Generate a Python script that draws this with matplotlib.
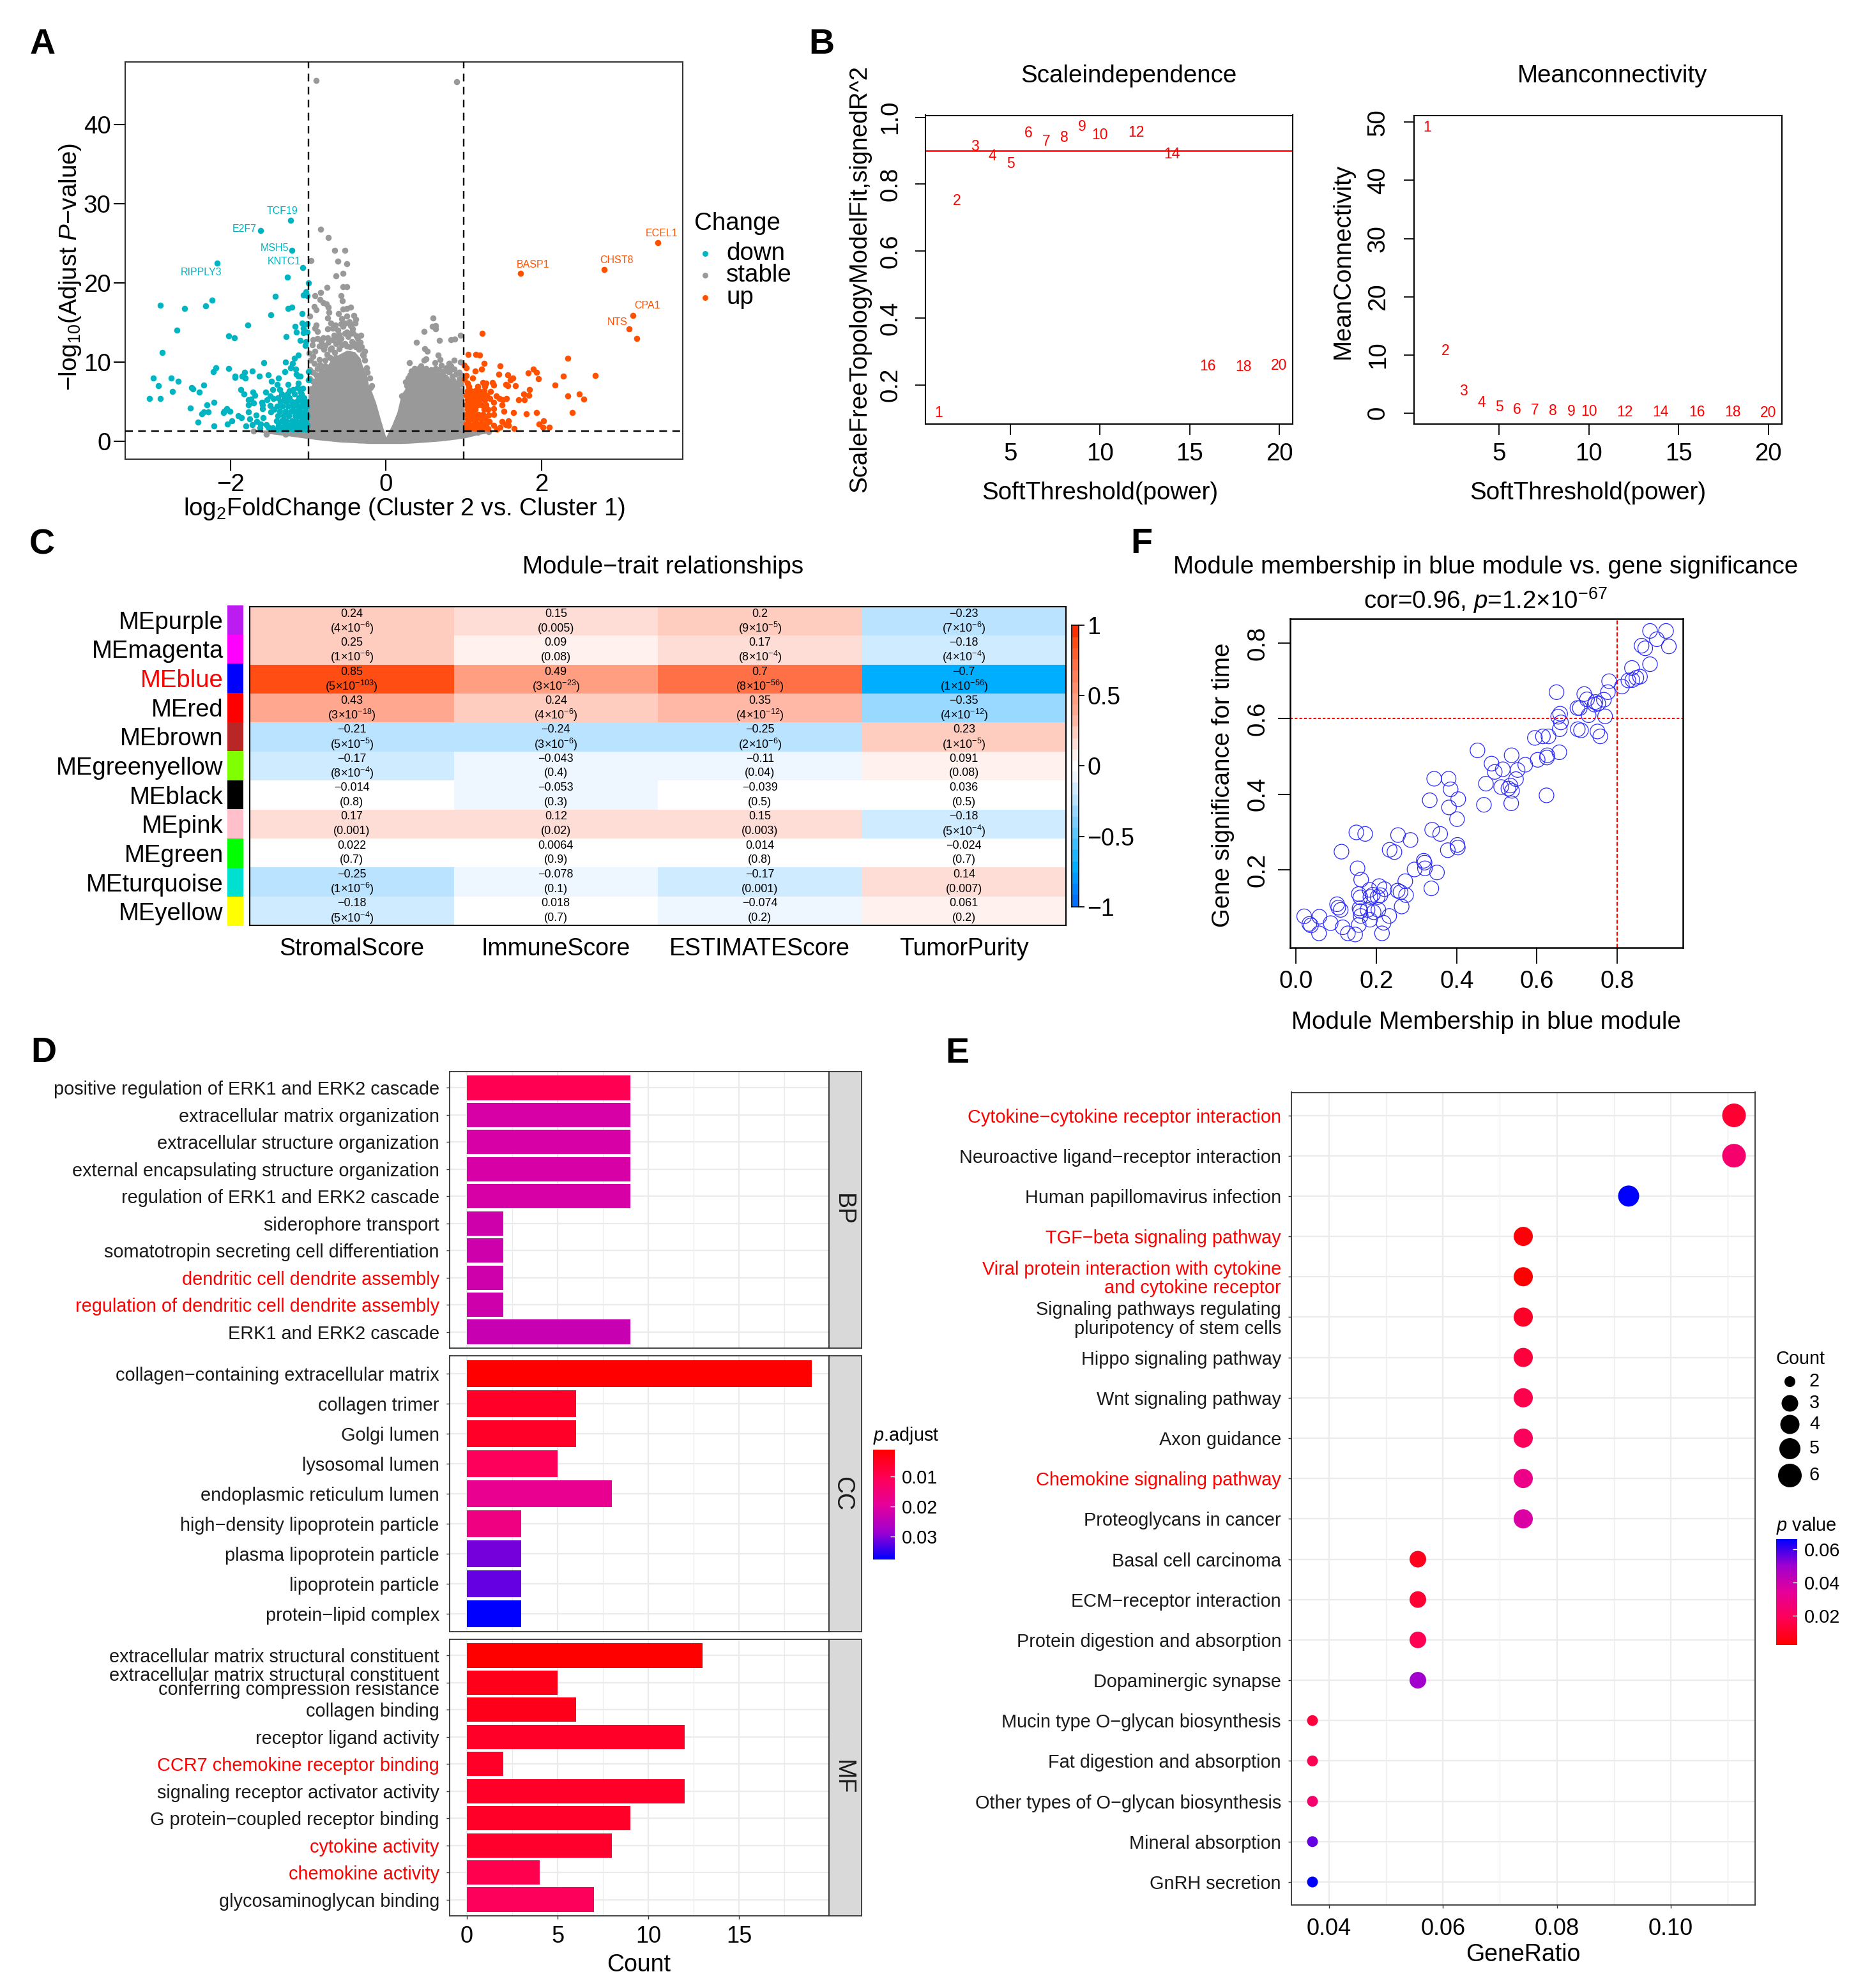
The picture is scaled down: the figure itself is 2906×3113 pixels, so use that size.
import matplotlib
matplotlib.use("Agg")
import matplotlib.pyplot as plt
import numpy as np
from matplotlib.colors import LinearSegmentedColormap, ListedColormap

W, H = 2906, 3113
PT = 0.72  # points per output pixel at dpi 100

plt.rcParams["font.family"] = ["Liberation Sans", "DejaVu Sans"]
plt.rcParams["mathtext.fontset"] = "custom"
plt.rcParams["mathtext.rm"] = "Liberation Sans"
plt.rcParams["mathtext.it"] = "Liberation Sans:italic"
plt.rcParams["mathtext.bf"] = "Liberation Sans:bold"
plt.rcParams["mathtext.default"] = "regular"

# ---- A: volcano ----
stable_env_x = [-1.75, -1.5, -1.2, -1.02, -1.0, -.9, -.8, -.7, -.6, -.5, -.4, -.33, -.3, -.25, -.22, -.18, -.13,
                -.07, 0, .08, .145, .2, .24, .32, .43, .54, .68, .79, .9, 1.0, 1.02, 1.2, 1.35]
stable_env_hi = [1.4, 1.4, 1.5, 1.8, 6.0, 8.5, 9, 10.3, 11, 11.5, 11.3, 10.5, 9.5, 8.5, 7, 6.2, 4.9,
                 2.8, .5, 2.1, 3.7, 6.0, 6.5, 8.4, 9.2, 8.7, 8.7, 8.4, 6.8, 6.7, 1.6, 1.4, 1.2]
stable_env_lo = [1.3, .95, .6, .35, .35, .2, .1, 0, -.1, -.15, -.2, -.25, -.25, -.28, -.3, -.3, -.3,
                 -.3, -.3, -.3, -.3, -.3, -.28, -.25, -.18, -.1, 0, .12, .25, .4, .42, .85, 1.1]
stable_points = [
    (-.90, 45.6), (.91, 45.4), (-.84, 26.8), (-.74, 25.7), (-.66, 24.1), (-.53, 24.1), (-.96, 22.8), (-.62, 22.7),
    (-.50, 22.4), (-.64, 20.9), (-.55, 21.2), (-.76, 19.4), (-.55, 19.5), (-.50, 19.5), (-.84, 18.8), (-.91, 18.4),
    (-.58, 18.4), (-.56, 17.7), (-.85, 17.9), (-.81, 17.5), (-.77, 17.3), (-.74, 16.9), (-.92, 17.0), (-.90, 16.6),
    (-.73, 16.3), (-.55, 16.7), (-.50, 16.8), (-.45, 16.9), (-.61, 16.1), (-.57, 15.5), (-.50, 15.8), (-.75, 15.6),
    (-.98, 15.8), (-.41, 15.9), (-.39, 15.4), (-.40, 14.9), (-.47, 15.1), (-.71, 14.9), (-.90, 14.7), (-.91, 14.3),
    (-.88, 13.9), (-.75, 14.2), (-.68, 14.3), (-.62, 14.0), (-.55, 14.5), (-.43, 14.2), (-.50, 13.8), (-.32, 13.4),
    (-.38, 13.3), (-.49, 13.2), (-.62, 13.1), (-.75, 13.1), (-.88, 13.0), (-.94, 12.8), (-.81, 13.1), (-.83, 12.6),
    (-.95, 12.2), (-.64, 12.3), (-.42, 12.4), (-.36, 12.3), (-.31, 11.9), (-.27, 11.4), (-.29, 10.8), (-.27, 10.2),
    (-.25, 9.3), (-.24, 8.7), (-.21, 8.0), (-.18, 7.0), (-.20, 6.8), (-.99, 11.1), (-.91, 11.4), (-.80, 11.6),
    (-.70, 11.8), (-.94, 10.7), (-.86, 10.3), (-.88, 9.2), (-.90, 8.4), (-.94, 7.6), (-1.7, 1.3), (-1.54, .9),
    (-1.29, .9), (1.18, 1.1), (1.32, 1.2),
    (-.97, 10.2), (-.92, 9.8), (-.98, 9.0), (-.94, 8.7), (-.85, 9.7), (-.83, 9.0), (-.85, 8.4), (-.98, 7.9), (-.90, 7.0),
    (-.85, 7.5), (-.96, 6.6), (-.92, 6.3), (-.78, 10.2), (-.72, 10.6), (-.76, 11.0), (-.66, 11.2), (-.64, 10.6),
    (-.78, 9.5), (-.74, 9.2), (-.70, 8.8), (-.80, 8.5), (-.76, 8.2), (-.68, 10.0), (-.72, 11.6), (-.60, 11.7),
    (-.57, 12.2), (-.53, 12.3), (-.50, 12.0), (-.46, 11.9), (-.44, 12.6), (-.39, 11.9), (-.35, 11.6), (-.60, 12.6),
    (-.58, 13.0), (-.86, 12.0), (-.78, 12.1), (-.74, 12.5), (-.68, 12.8), (-.67, 13.4), (-.60, 13.5), (-.53, 13.6),
    (-.46, 13.6), (-.42, 13.6), (-.65, 14.7), (-.58, 14.8), (-.52, 14.9), (-.45, 14.6), (-.36, 13.0), (-.33, 12.5),
    (-.30, 11.0),
    (.61, 15.6), (.60, 14.5), (.64, 14.6), (.64, 14.2), (.49, 13.9), (.96, 13.4), (.89, 12.9), (.84, 12.8), (.69, 12.7),
    (.39, 12.5), (.50, 11.7), (.53, 11.4), (.52, 10.4), (.49, 10.2), (.67, 10.9), (.70, 10.3), (.30, 9.9), (.88, 10.2),
    (.96, 10.0), (.71, 9.6), (.63, 9.9), (.81, 9.8), (.78, 9.3), (.84, 9.5), (.52, 9.2), (.43, 9.3), (.64, 9.2),
    (.88, 9.1), (.94, 8.7), (.35, 8.7), (.31, 8.4), (.41, 8.8), (.54, 8.7), (.73, 8.5), (.25, 7.5), (.30, 8.0),
    (.86, 7.7), (.83, 7.5), (.20, 5.7), (.90, 7.3),
    (.33, 8.9), (.37, 9.2), (.45, 9.5), (.5, 9.0), (.58, 9.0), (.62, 8.9), (.68, 9.0), (.75, 8.9), (.80, 8.8), (.85, 8.2),
    (.9, 8.5), (.94, 7.8), (.98, 8.3), (.92, 7.0), (.88, 7.2), (.97, 7.2), (.27, 7.0), (.29, 8.0), (.82, 8.9),
]
down_points = [
    (-1.23, 27.9), (-1.61, 26.6), (-1.21, 24.1), (-2.17, 22.5), (-1.07, 21.9), (-1.27, 20.7), (-1.00, 20.0),
    (-2.90, 17.2), (-2.59, 16.8), (-2.32, 17.1), (-2.24, 17.8), (-1.42, 18.3), (-1.06, 18.5), (-1.03, 18.9),
    (-1.01, 18.4), (-1.26, 16.8), (-1.21, 16.9), (-1.08, 16.1), (-1.48, 16.0), (-1.78, 14.7), (-1.08, 14.9),
    (-1.01, 14.8), (-1.17, 14.5), (-1.15, 13.8), (-1.06, 14.3), (-1.06, 13.7), (-1.01, 13.8), (-2.69, 14.0),
    (-2.02, 13.3), (-1.95, 13.1), (-1.28, 13.2), (-1.10, 12.7), (-1.03, 12.6), (-1.04, 12.1), (-2.88, 11.2),
    (-1.13, 10.9), (-1.18, 10.5), (-1.29, 10.0), (-1.57, 9.9), (-1.20, 9.8), (-1.23, 9.3), (-2.19, 9.3),
    (-2.22, 8.8), (-2.02, 9.2), (-1.72, 8.9), (-1.82, 8.7), (-1.30, 8.8), (-1.16, 9.1), (-1.15, 8.5), (-1.13, 8.2),
    (-1.10, 8.2), (-1.00, 8.8), (-2.99, 8.0), (-2.76, 8.0), (-2.67, 7.6), (-1.94, 8.2), (-1.94, 8.1), (-1.85, 8.2),
    (-1.81, 8.0), (-1.63, 8.2), (-1.51, 8.4), (-1.38, 8.0), (-1.47, 7.6), (-1.40, 7.2), (-1.26, 7.2), (-1.00, 7.7),
    (-1.13, 7.3), (-2.93, 7.0), (-2.50, 6.8), (-2.48, 6.6), (-2.34, 7.1), (-2.75, 6.3), (-2.40, 6.2), (-1.87, 6.5),
    (-1.83, 6.0), (-1.71, 6.2), (-1.69, 5.8), (-1.55, 6.2), (-1.46, 6.5), (-1.37, 6.5), (-1.24, 6.4), (-1.19, 6.5),
    (-1.14, 6.8), (-1.07, 6.7), (-1.10, 6.3), (-3.04, 5.4), (-2.90, 5.4), (-1.74, 5.3), (-1.77, 5.2), (-1.70, 4.8),
    (-1.77, 4.6), (-1.60, 4.9), (-1.53, 5.2), (-1.49, 5.7), (-1.45, 5.4), (-2.21, 4.9), (-2.30, 4.6), (-2.52, 4.2),
    (-1.59, 4.6), (-1.59, 4.1), (-1.49, 4.5), (-1.48, 3.7), (-1.44, 4.0), (-2.05, 4.1), (-2.01, 3.8), (-2.09, 3.6),
    (-2.08, 3.8), (-2.29, 3.7), (-2.34, 3.7), (-2.37, 3.5), (-1.77, 3.7), (-1.67, 3.3), (-1.90, 3.2), (-1.86, 3.0),
    (-1.75, 2.8), (-2.42, 2.4), (-1.98, 2.6), (-2.04, 2.2), (-2.21, 1.9), (-1.58, 3.0), (-1.66, 2.5), (-1.72, 2.1),
    (-1.80, 1.9), (-1.61, 2.2), (-1.62, 1.7), (-1.54, 2.1), (-1.51, 1.8), (-1.46, 1.7),
    (-1.40, 1.5), (-1.33, 1.5), (-1.27, 1.5), (-1.2, 1.5), (-1.14, 1.5), (-1.08, 1.5), (-1.03, 1.5),
    (-1.38, 2.0), (-1.31, 2.0), (-1.24, 2.0), (-1.18, 2.0), (-1.11, 2.0), (-1.05, 2.0), (-1.01, 2.0),
    (-1.41, 2.6), (-1.34, 2.6), (-1.28, 2.6), (-1.21, 2.6), (-1.15, 2.6), (-1.09, 2.6), (-1.03, 2.6),
    (-1.39, 3.2), (-1.32, 3.2), (-1.25, 3.2), (-1.17, 3.2), (-1.12, 3.2), (-1.06, 3.2), (-1.01, 3.2),
    (-1.37, 3.8), (-1.29, 3.8), (-1.22, 3.8), (-1.16, 3.8), (-1.10, 3.8), (-1.04, 3.8),
    (-1.40, 4.4), (-1.33, 4.4), (-1.26, 4.4), (-1.19, 4.4), (-1.13, 4.4), (-1.07, 4.4), (-1.02, 4.4),
    (-1.36, 5.0), (-1.28, 5.0), (-1.21, 5.0), (-1.15, 5.0), (-1.08, 5.0), (-1.03, 5.0),
    (-1.39, 5.5), (-1.31, 5.5), (-1.24, 5.5), (-1.12, 5.5), (-1.05, 5.5),
    (-1.34, 6.0), (-1.27, 6.0), (-1.18, 6.0), (-1.09, 6.0),
]
up_points = [
    (3.50, 25.1), (2.81, 21.7), (1.73, 21.2), (3.18, 15.9), (3.13, 14.2), (3.23, 13.0),
    (1.24, 13.6), (1.06, 11.0), (1.16, 11.0), (1.21, 10.9), (2.34, 10.5), (1.26, 9.8), (1.47, 9.5), (1.01, 9.6),
    (1.03, 9.3), (1.23, 9.1), (1.15, 8.9), (1.90, 9.1), (1.94, 8.7), (1.83, 8.6), (1.45, 8.5), (1.57, 8.4), (2.69, 8.3),
    (2.28, 8.2), (1.03, 8.3), (1.12, 8.0), (1.01, 7.8), (1.63, 8.0), (1.60, 7.7), (1.96, 7.9), (1.54, 7.2), (1.57, 7.0),
    (1.67, 7.0), (2.18, 7.1), (1.37, 7.4), (1.39, 7.1), (1.25, 7.4), (1.29, 7.3), (1.27, 6.9), (1.18, 6.9), (1.05, 7.3),
    (1.07, 6.9), (1.85, 6.5), (1.77, 6.0), (1.84, 5.8), (2.49, 6.0), (2.34, 5.7), (2.55, 5.3), (1.71, 5.2), (1.78, 5.2),
    (1.55, 5.4), (1.35, 6.3), (1.42, 5.7), (1.46, 5.4), (1.50, 5.2), (1.34, 5.4), (1.39, 4.9), (1.49, 4.6), (1.39, 4.1),
    (1.52, 3.8), (1.39, 3.4), (1.64, 3.6), (1.81, 3.5), (1.94, 3.6), (2.40, 3.6), (1.32, 3.3), (2.03, 2.6), (1.97, 2.2),
    (2.02, 1.8), (2.10, 1.8), (1.58, 2.6), (1.49, 2.5), (1.54, 2.1), (1.58, 2.0), (1.47, 1.8), (1.65, 1.6), (1.43, 1.5),
    (1.39, 2.0), (1.33, 2.5),
    (1.04, 1.6), (1.09, 1.6), (1.15, 1.6), (1.20, 1.6), (1.26, 1.6), (1.31, 1.6),
    (1.03, 2.2), (1.07, 2.2), (1.13, 2.2), (1.18, 2.2), (1.24, 2.2), (1.29, 2.2),
    (1.05, 2.8), (1.10, 2.8), (1.16, 2.8), (1.22, 2.8), (1.28, 2.8),
    (1.03, 3.4), (1.08, 3.4), (1.13, 3.4), (1.19, 3.4), (1.25, 3.4),
    (1.05, 4.0), (1.10, 4.0), (1.15, 4.0), (1.26, 4.0), (1.31, 4.0),
    (1.03, 4.6), (1.08, 4.6), (1.14, 4.6), (1.18, 4.6), (1.23, 4.6), (1.29, 4.6),
    (1.05, 5.2), (1.11, 5.2), (1.16, 5.2), (1.21, 5.2), (1.27, 5.2),
    (1.03, 5.8), (1.08, 5.8), (1.13, 5.8), (1.19, 5.8), (1.24, 5.8), (1.30, 5.8),
    (1.05, 6.4), (1.09, 6.4), (1.15, 6.4), (1.20, 6.4), (1.26, 6.4),
]
down_genes = [("TCF19", -1.33, 29.07), ("E2F7", -1.82, 26.8), ("MSH5", -1.43, 24.4), ("KNTC1", -1.31, 22.7),
              ("RIPPLY3", -2.38, 21.3)]
up_genes = [("ECEL1", 3.55, 26.25), ("CHST8", 2.97, 22.9), ("BASP1", 1.89, 22.3), ("CPA1", 3.36, 17.1),
            ("NTS", 2.98, 15.0)]

# ---- B: soft threshold ----
powers = [1, 2, 3, 4, 5, 6, 7, 8, 9, 10, 12, 14, 16, 18, 20]
fit_r2 = [.116, .750, .913, .884, .861, .953, .928, .940, .971, .946, .954, .889, .255, .254, .257]
mean_k = [49.1, 10.7, 3.8, 1.8, 1.0, .6, .45, .3, .25, .2, .1, .08, .08, .08, .06]

# ---- C: module-trait ----
modules = ["MEpurple", "MEmagenta", "MEblue", "MEred", "MEbrown", "MEgreenyellow", "MEblack", "MEpink", "MEgreen",
           "MEturquoise", "MEyellow"]
module_colors = ["#BB1CF0", "#FF00FF", "#0000FF", "#FF0000", "#B82626", "#7FFF00", "#000000", "#FFC0CB", "#00FF00",
                 "#00E0D0", "#FFFF00"]
traits = ["StromalScore", "ImmuneScore", "ESTIMATEScore", "TumorPurity"]
trait_cor = [
    [.24, .15, .2, -.23],
    [.25, .09, .17, -.18],
    [.85, .49, .7, -.7],
    [.43, .24, .35, -.35],
    [-.21, -.24, -.25, .23],
    [-.17, -.043, -.11, .091],
    [-.014, -.053, -.039, .036],
    [.17, .12, .15, -.18],
    [.022, .0064, .014, -.024],
    [-.25, -.078, -.17, .14],
    [-.18, .018, -.074, .061],
]
trait_p = [
    ["4e-6", "0.005", "9e-5", "7e-6"],
    ["1e-6", "0.08", "8e-4", "4e-4"],
    ["5e-103", "3e-23", "8e-56", "1e-56"],
    ["3e-18", "4e-6", "4e-12", "4e-12"],
    ["5e-5", "3e-6", "2e-6", "1e-5"],
    ["8e-4", "0.4", "0.04", "0.08"],
    ["0.8", "0.3", "0.5", "0.5"],
    ["0.001", "0.02", "0.003", "5e-4"],
    ["0.7", "0.9", "0.8", "0.7"],
    ["1e-6", "0.1", "0.001", "0.007"],
    ["5e-4", "0.7", "0.2", "0.2"],
]

# ---- F: module membership ----
mm_x = [.882, .922, .899, .929, .861, .870, .882, .837, .857, .848, .838, .828, .812, .780, .777, .767, .770, .753,
        .744, .746, .718, .725, .707, .701, .729, .649, .658, .653, .660, .657, .702, .710, .751, .758, .595, .615,
        .629, .656, .626, .625, .602, .571, .552, .548, .537, .452, .487, .515, .495, .473, .511, .529, .534, .538,
        .536, .624, .468, .344, .380, .385, .404, .333, .381, .401, .339, .359, .254, .285, .150, .172, .113, .233,
        .245, .378, .402, .403, .318, .320, .321, .295, .351, .153, .162, .272, .337, .220, .207, .183, .253, .260,
        .156, .191, .185, .203, .210, .274, .160, .263, .102, .105, .111, .158, .160, .178, .205, .193, .161, .232,
        .020, .058, .086, .033, .037, .156, .184, .218, .116, .057, .129, .147, .214]
gs_y = [.832, .832, .810, .791, .793, .786, .744, .734, .711, .708, .702, .701, .685, .699, .670, .650, .606, .640,
        .637, .644, .665, .651, .628, .628, .609, .670, .613, .605, .590, .572, .572, .569, .566, .553, .549, .553,
        .553, .511, .503, .497, .491, .478, .464, .440, .503, .516, .481, .466, .459, .428, .419, .415, .423, .409,
        .376, .397, .372, .441, .441, .413, .387, .384, .365, .334, .306, .295, .292, .279, .299, .295, .248, .253,
        .247, .252, .266, .259, .224, .219, .204, .201, .193, .204, .174, .170, .151, .149, .157, .147, .145, .141,
        .136, .134, .128, .128, .133, .133, .127, .103, .109, .100, .094, .098, .091, .094, .094, .088, .078, .078,
        .077, .076, .059, .057, .053, .054, .068, .060, .048, .032, .032, .029, .032]

# ---- D: GO bars ----
bp_terms = ["positive regulation of ERK1 and ERK2 cascade", "extracellular matrix organization",
            "extracellular structure organization", "external encapsulating structure organization",
            "regulation of ERK1 and ERK2 cascade", "siderophore transport",
            "somatotropin secreting cell differentiation", "dendritic cell dendrite assembly",
            "regulation of dendritic cell dendrite assembly", "ERK1 and ERK2 cascade"]
bp_counts = [9, 9, 9, 9, 9, 2, 2, 2, 2, 9]
bp_padj = [.0100, .0215, .0215, .0215, .0215, .0225, .0225, .0225, .0225, .0235]
cc_terms = ["collagen\u2212containing extracellular matrix", "collagen trimer", "Golgi lumen", "lysosomal lumen",
            "endoplasmic reticulum lumen", "high\u2212density lipoprotein particle", "plasma lipoprotein particle",
            "lipoprotein particle", "protein\u2212lipid complex"]
cc_counts = [19, 6, 6, 5, 8, 3, 3, 3, 3]
cc_padj = [.001, .0055, .0055, .011, .018, .016, .031, .032, .0378]
mf_terms = ["extracellular matrix structural constituent",
            "extracellular matrix structural constituent\nconferring compression resistance", "collagen binding",
            "receptor ligand activity", "CCR7 chemokine receptor binding", "signaling receptor activator activity",
            "G protein\u2212coupled receptor binding", "cytokine activity", "chemokine activity",
            "glycosaminoglycan binding"]
mf_counts = [13, 5, 6, 12, 2, 12, 9, 8, 4, 7]
mf_padj = [.001, .004, .004, .0055, .0055, .0055, .0055, .006, .0095, .011]
go_red = {"dendritic cell dendrite assembly", "regulation of dendritic cell dendrite assembly",
          "CCR7 chemokine receptor binding", "cytokine activity", "chemokine activity"}

# ---- E: KEGG dots ----
kegg_terms = ["Cytokine\u2212cytokine receptor interaction", "Neuroactive ligand\u2212receptor interaction",
              "Human papillomavirus infection", "TGF\u2212beta signaling pathway",
              "Viral protein interaction with cytokine\nand cytokine receptor",
              "Signaling pathways regulating\npluripotency of stem cells", "Hippo signaling pathway",
              "Wnt signaling pathway", "Axon guidance", "Chemokine signaling pathway", "Proteoglycans in cancer",
              "Basal cell carcinoma", "ECM\u2212receptor interaction", "Protein digestion and absorption",
              "Dopaminergic synapse", "Mucin type O\u2212glycan biosynthesis", "Fat digestion and absorption",
              "Other types of O\u2212glycan biosynthesis", "Mineral absorption", "GnRH secretion"]
kegg_counts = [6, 6, 5, 4, 4, 4, 4, 4, 4, 4, 4, 3, 3, 3, 3, 2, 2, 2, 2, 2]
kegg_ratio = [.1111, .1111, .0926, .0741, .0741, .0741, .0741, .0741, .0741, .0741, .0741, .0556, .0556, .0556,
              .0556, .0371, .0371, .0371, .0371, .0371]
kegg_p = [.012, .024, .0662, .004, .0024, .010, .014, .017, .020, .030, .037, .008, .012, .018, .050, .014, .018,
          .024, .056, .066]
kegg_red = {0, 3, 4, 9}
count_diam_px = {2: 17, 3: 26, 4: 30, 5: 33, 6: 37}

DARK = "#1A1A1A"
TEAL = "#00B5C1"
GREY = "#999999"
ORANGE = "#FF5000"
BIG = 27.7
TERM = 20.8

# red to blue ramp used by both enrichment panels
enrich_cmap = LinearSegmentedColormap.from_list(
    "enrich", ["#FF0000", "#FF0055", "#E6009A", "#A000D0", "#0000FF"], N=256)
heat_stops = [(-1, "#0070FF"), (-.75, "#00AEFF"), (-.333, "#99D8FF"), (-.25, "#BAE3FF"), (-.167, "#CFEBFF"),
              (-.083, "#EEF7FF"), (0, "#FFFFFF"), (.083, "#FFF1EE"), (.167, "#FFDDD7"), (.25, "#FFCCC0"),
              (.333, "#FFB8A5"), (.417, "#FFA88F"), (.5, "#FF9E80"), (.75, "#FF7046"), (.917, "#FF4D14"),
              (1, "#FF3000")]
heat_cmap = LinearSegmentedColormap.from_list("heat", [((v + 1) / 2, c) for v, c in heat_stops], N=25)

fig = plt.figure(figsize=(W / 100, H / 100), dpi=100)


def axes_px(left, top, right, bottom):
    return fig.add_axes([left / W, 1 - bottom / H, (right - left) / W, (bottom - top) / H])


def label_px(x, y, s, size=BIG, ha="center", va="center", **kw):
    fig.text(x / W, 1 - y / H, s, fontsize=size, ha=ha, va=va, **kw)


overlay = fig.add_axes([0, 0, 1, 1], zorder=5)
overlay.set_xlim(0, W)
overlay.set_ylim(H, 0)
overlay.axis("off")

for name, x, y in [("A", 67, 70), ("B", 1286, 70), ("C", 66, 853), ("D", 68, 1649), ("E", 1499, 1650), ("F", 1787, 852)]:
    label_px(x, y, name, size=40, fontweight="bold")

# panel A
ax = axes_px(196, 97, 1069, 719)
ax.fill_between(stable_env_x, stable_env_lo, stable_env_hi, color=GREY, lw=0, zorder=1)
for pts, col in [(stable_points, GREY), (down_points, TEAL), (up_points, ORANGE)]:
    arr = np.array(pts)
    ax.scatter(arr[:, 0], arr[:, 1], s=48, color=col, lw=0, zorder=2)
for name, x, y in down_genes:
    ax.text(x, y, name, color=TEAL, fontsize=11.5, ha="center", va="center")
for name, x, y in up_genes:
    ax.text(x, y, name, color=ORANGE, fontsize=11.5, ha="center", va="center")
for xv in (-1, 1):
    ax.axvline(xv, color="black", lw=2.4 * PT, dashes=(5, 3.5), zorder=3)
ax.axhline(1.3, color="black", lw=2.4 * PT, dashes=(5, 3.5), zorder=3)
ax.set_xlim(-3.355, 3.82)
ax.set_ylim(-2.26, 47.9)
ax.set_xticks([-2, 0, 2])
ax.set_xticklabels(["\u22122", "0", "2"])
ax.set_yticks([0, 10, 20, 30, 40])
ax.tick_params(length=18 * PT, width=1.5, labelsize=BIG, pad=3)
for sp in ax.spines.values():
    sp.set_color("#333333")
    sp.set_linewidth(1.5)
label_px(633, 797, "log$_{2}$FoldChange (Cluster 2 vs. Cluster 1)")
label_px(110, 418, "\u2212log$_{10}$(Adjust $\\mathit{P}$\u2212value)", rotation=90)
label_px(1087, 350, "Change", ha="left")
for y, col, name in [(397, TEAL, "down"), (431, GREY, "stable"), (466, ORANGE, "up")]:
    overlay.scatter([1104], [y], s=42, color=col, lw=0)
    label_px(1137, y, name, ha="left")

# panel B
for (l, r), vals, ylim, yticks, title, ylab, ylab_x, ylab_y, title_x, xlab_x, pad in [
    ((1449, 2024), fit_r2, (.083, 1.006), [.2, .4, .6, .8, 1.0], "Scaleindependence",
     "ScaleFreeTopologyModelFit,signedR^2", 1346, 437, 1767, 1722, 15),
    ((2214, 2790), mean_k, (-1.9, 51.2), [0, 10, 20, 30, 40, 50], "Meanconnectivity",
     "MeanConnectivity", 2103, 409, 2525, 2486, 16),
]:
    ax = axes_px(l, 180.5, r, 664)
    for p, v in zip(powers, vals):
        ax.text(p, v, str(p), color="red", fontsize=16.5, ha="center", va="center")
    ax.set_xlim(.25, 20.75)
    ax.set_ylim(*ylim)
    ax.set_xticks([5, 10, 15, 20])
    ax.set_yticks(yticks)
    ax.set_yticklabels([f"{t:g}" for t in yticks] if l > 2000 else [f"{t:.1f}" for t in yticks],
                       rotation=90, va="center")
    ax.tick_params(axis="x", length=17 * PT, width=1.3, labelsize=BIG, pad=8.6)
    ax.tick_params(axis="y", length=16 * PT, width=1.3, labelsize=BIG, pad=pad)
    for sp in ax.spines.values():
        sp.set_linewidth(1.5)
    if l < 2000:
        ax.axhline(.9, color="red", lw=1.8)
    label_px(title_x, 119, title)
    label_px(xlab_x, 772, "SoftThreshold(power)")
    label_px(ylab_x, ylab_y, ylab, rotation=90)

# panel C
label_px(1038, 888, "Module\u2212trait relationships")
strip_ax = axes_px(356, 948, 381, 1450)
strip_ax.pcolormesh(np.arange(len(modules))[:, None], cmap=ListedColormap(module_colors), vmin=0,
                    vmax=len(modules) - 1)
strip_ax.set_ylim(len(modules), 0)
strip_ax.set_xticks([])
strip_ax.set_yticks(np.arange(len(modules)) + .5)
strip_ax.set_yticklabels(modules)
strip_ax.tick_params(length=0, labelsize=27.5, pad=4.5)
strip_ax.get_yticklabels()[modules.index("MEblue")].set_color("red")
for sp in strip_ax.spines.values():
    sp.set_visible(False)

heat_ax = axes_px(391, 950, 1669, 1449)
heat_ax.pcolormesh(np.array(trait_cor), cmap=heat_cmap, vmin=-1, vmax=1)
heat_ax.set_ylim(len(modules), 0)
heat_ax.set_xticks(np.arange(len(traits)) + .5)
heat_ax.set_xticklabels(traits)
heat_ax.set_yticks([])
heat_ax.tick_params(length=0, labelsize=27, pad=14)
for sp in heat_ax.spines.values():
    sp.set_linewidth(1.5)


def p_text(p):
    if "e" in p:
        base, exp = p.split("e")
        return f"({base}\u00d710$^{{\\mathrm{{{exp}}}}}$)"
    return f"({p})"


for i, row in enumerate(trait_cor):
    for j, val in enumerate(row):
        heat_ax.text(j + .5, i + .25, f"{val:g}".replace("-", "\u2212"), fontsize=13, ha="center", va="center")
        heat_ax.text(j + .5, i + .75, p_text(trait_p[i][j]), fontsize=13, ha="center", va="center")

bar_ax = axes_px(1678, 979, 1689, 1420)
bar_ax.imshow(np.linspace(1, -1, 256)[:, None], cmap=heat_cmap, vmin=-1, vmax=1, aspect="auto", extent=[0, 1, -1, 1])
bar_ax.set_xticks([])
bar_ax.yaxis.tick_right()
bar_ax.set_yticks([-1, -.5, 0, .5, 1])
bar_ax.set_yticklabels(["\u22121", "\u22120.5", "0", "0.5", "1"])
bar_ax.tick_params(length=9 * PT, width=1.3, labelsize=27, pad=3)
for sp in bar_ax.spines.values():
    sp.set_linewidth(1.2)

# panel F
ax = axes_px(2020, 969, 2635, 1484)
ax.scatter(mm_x, gs_y, s=(23 * PT) ** 2, facecolors="none", edgecolors="#2A2AFF", linewidths=0.9)
ax.axhline(.6, color="red", lw=1.5, ls=(0, (2, 1.5)))
ax.axvline(.8, color="red", lw=1.5, ls=(0, (3, 1.5)))
ax.set_xlim(-.015, .964)
ax.set_ylim(-.006, .864)
ax.set_xticks([0, .2, .4, .6, .8])
ax.set_xticklabels(["0.0", "0.2", "0.4", "0.6", "0.8"])
ax.set_yticks([.2, .4, .6, .8])
ax.set_yticklabels(["0.2", "0.4", "0.6", "0.8"], rotation=90, va="center")
ax.tick_params(axis="x", length=25 * PT, width=1.3, labelsize=BIG, pad=7)
ax.tick_params(axis="y", length=19 * PT, width=1.3, labelsize=BIG, pad=10)
for sp in ax.spines.values():
    sp.set_linewidth(1.8)
label_px(2326, 888, "Module membership in blue module vs. gene significance")
label_px(2326, 940, "cor=0.96, $\\mathit{p}$=1.2\u00d710$^{\\mathrm{-67}}$")
label_px(2327, 1601, "Module Membership in blue module")
label_px(1915, 1229, "Gene significance for time", rotation=90)

# panel D
GO_VMIN, GO_VMAX = .001, .0378
facets = [("BP", 1678, 2111, bp_terms, bp_counts, bp_padj),
          ("CC", 2123, 2555, cc_terms, cc_counts, cc_padj),
          ("MF", 2567, 3000, mf_terms, mf_counts, mf_padj)]
for name, top, bottom, terms, counts, padj in facets:
    ax = axes_px(704, top, 1298, bottom)
    rows = np.arange(len(terms))
    cols = enrich_cmap((np.array(padj) - GO_VMIN) / (GO_VMAX - GO_VMIN))
    ax.barh(rows, counts, height=.9, color=cols, zorder=2)
    ax.set_xlim(-.95, 19.95)
    ax.set_ylim(len(terms) - .4, -.6)
    ax.set_yticks(rows)
    ax.set_yticklabels(terms)
    ax.set_xticks([0, 5, 10, 15])
    ax.set_xticks([2.5, 7.5, 12.5, 17.5], minor=True)
    ax.grid(True, which="major", color="#EBEBEB", lw=1.6)
    ax.grid(True, which="minor", axis="x", color="#EBEBEB", lw=.9)
    ax.set_axisbelow(True)
    ax.tick_params(axis="y", length=5 * PT, width=1, color="#333333", labelsize=TERM, pad=8, labelcolor=DARK)
    ax.tick_params(axis="x", which="minor", length=0)
    if name == "MF":
        ax.tick_params(axis="x", length=5 * PT, width=1, color="#333333", labelsize=26, pad=7)
    else:
        ax.tick_params(axis="x", length=0, labelbottom=False)
    for lab, term in zip(ax.get_yticklabels(), terms):
        lab.set_multialignment("right")
        lab.set_linespacing(.75)
        if term in go_red:
            lab.set_color("red")
    for sp in ax.spines.values():
        sp.set_color("#333333")
        sp.set_linewidth(1.3)
    strip = axes_px(1298, top, 1349, bottom)
    strip.set_facecolor("#D9D9D9")
    strip.set_xticks([])
    strip.set_yticks([])
    for sp in strip.spines.values():
        sp.set_color("#333333")
        sp.set_linewidth(1.3)
    strip.text(.42, .5, name, rotation=-90, fontsize=27, ha="center", va="center", color=DARK,
               transform=strip.transAxes)
label_px(1000, 3077, "Count", size=27)

go_bar = axes_px(1367, 2270, 1401, 2442)
go_bar.imshow(np.linspace(0, 1, 256)[:, None], cmap=enrich_cmap, aspect="auto", extent=[0, 1, GO_VMAX, GO_VMIN])
go_bar.set_xticks([])
go_bar.yaxis.tick_right()
go_bar.set_yticks([.01, .02, .03])
go_bar.set_yticklabels(["0.01", "0.02", "0.03"])
go_bar.tick_params(axis="y", direction="in", length=7 * PT, width=1, color="white", labelsize=TERM, pad=8)
go_bar.set_ylim(GO_VMAX, GO_VMIN)
for sp in go_bar.spines.values():
    sp.set_visible(False)
label_px(1367, 2248, "$\\mathit{p}$.adjust", size=TERM, ha="left")

# panel E
KEGG_VMIN, KEGG_VMAX = .0024, .0662
ax = axes_px(2022, 1710.5, 2748, 2983)
rows = np.arange(len(kegg_terms))
cols = enrich_cmap((np.array(kegg_p) - KEGG_VMIN) / (KEGG_VMAX - KEGG_VMIN))
sizes = [(count_diam_px[c] * PT) ** 2 for c in kegg_counts]
ax.scatter(kegg_ratio, rows, s=sizes, c=cols, lw=0, zorder=3)
ax.set_xlim(.0334, .1148)
ax.set_ylim(len(kegg_terms) - .43, -.57)
ax.set_yticks(rows)
ax.set_yticklabels(kegg_terms)
ax.set_xticks([.04, .06, .08, .10])
ax.set_xticklabels(["0.04", "0.06", "0.08", "0.10"])
ax.set_xticks([.05, .07, .09, .11], minor=True)
ax.grid(True, which="major", color="#EBEBEB", lw=1.6)
ax.grid(True, which="minor", axis="x", color="#EBEBEB", lw=.9)
ax.set_axisbelow(True)
ax.tick_params(axis="y", length=5 * PT, width=1, color="#333333", labelsize=TERM, pad=8, labelcolor=DARK)
ax.tick_params(axis="x", length=5 * PT, width=1, color="#333333", labelsize=26, pad=11)
ax.tick_params(axis="x", which="minor", length=0)
for i, lab in enumerate(ax.get_yticklabels()):
    lab.set_multialignment("right")
    lab.set_linespacing(1.05)
    if i in kegg_red:
        lab.set_color("red")
for sp in ax.spines.values():
    sp.set_color("#333333")
    sp.set_linewidth(1.3)
label_px(2385, 3061, "GeneRatio", size=27)

label_px(2781, 2128, "Count", size=TERM, ha="left")
for c, y in [(2, 2163), (3, 2197), (4, 2230), (5, 2268), (6, 2310)]:
    overlay.scatter([2802], [y], s=(count_diam_px[c] * PT) ** 2, color="black", lw=0)
    label_px(2841, y, str(c), size=TERM)
label_px(2781, 2389, "$\\mathit{p}$ value", size=TERM, ha="left")
kegg_bar = axes_px(2781, 2410, 2814, 2576)
kegg_bar.imshow(np.linspace(1, 0, 256)[:, None], cmap=enrich_cmap, aspect="auto",
                extent=[0, 1, KEGG_VMIN, KEGG_VMAX])
kegg_bar.set_xticks([])
kegg_bar.yaxis.tick_right()
kegg_bar.set_yticks([.02, .04, .06])
kegg_bar.set_yticklabels(["0.02", "0.04", "0.06"])
kegg_bar.tick_params(axis="y", direction="in", length=7 * PT, width=1, color="white", labelsize=TERM, pad=8)
for sp in kegg_bar.spines.values():
    sp.set_visible(False)

fig.savefig("out.png", dpi=100)
